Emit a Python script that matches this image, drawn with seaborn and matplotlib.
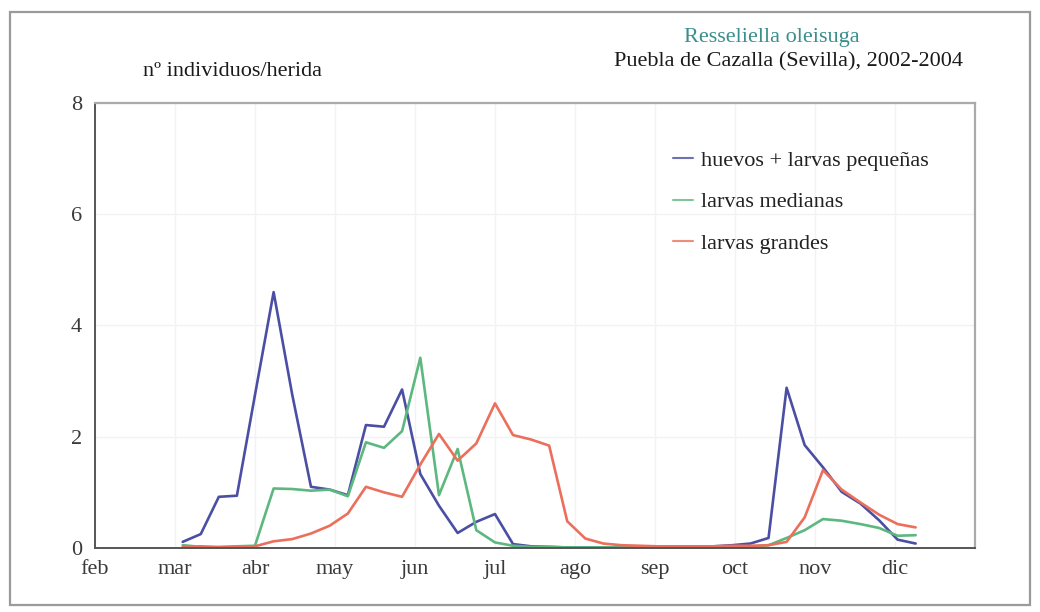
import numpy as np
import pandas as pd
import matplotlib
matplotlib.use("Agg")
import matplotlib.pyplot as plt
from matplotlib.patches import Rectangle
import seaborn as sns

# Weekly sampling dates (2003 season) and counts per wound
FECHA_INICIO = "2003-03-04"
N_MUESTREOS = 41

huevos_larvas_pequenas = [
    0.11, 0.25, 0.92, 0.94, 2.75, 4.60, 2.75, 1.10, 1.05, 0.95,
    2.21, 2.18, 2.85, 1.33, 0.76, 0.27, 0.47, 0.61, 0.07, 0.03,
    0.02, 0.01, 0.01, 0.01, 0.01, 0.01, 0.02, 0.02, 0.02, 0.03,
    0.05, 0.08, 0.18, 2.88, 1.85, 1.45, 1.01, 0.80, 0.50, 0.15,
    0.08,
]
larvas_medianas = [
    0.05, 0.02, 0.02, 0.03, 0.04, 1.07, 1.06, 1.03, 1.05, 0.93,
    1.90, 1.80, 2.10, 3.42, 0.95, 1.78, 0.32, 0.10, 0.04, 0.02,
    0.02, 0.01, 0.01, 0.01, 0.01, 0.01, 0.01, 0.01, 0.01, 0.01,
    0.01, 0.02, 0.05, 0.18, 0.32, 0.52, 0.49, 0.43, 0.36, 0.22,
    0.23,
]
larvas_grandes = [
    0.02, 0.03, 0.01, 0.02, 0.03, 0.12, 0.16, 0.26, 0.40, 0.62,
    1.10, 1.00, 0.92, 1.50, 2.05, 1.57, 1.88, 2.60, 2.03, 1.95,
    1.84, 0.48, 0.17, 0.08, 0.05, 0.04, 0.03, 0.03, 0.03, 0.03,
    0.04, 0.04, 0.05, 0.11, 0.55, 1.40, 1.05, 0.82, 0.60, 0.43,
    0.37,
]

SERIES = ["huevos + larvas pequeñas", "larvas medianas", "larvas grandes"]
COLORES = ["#4a4fa3", "#5cb87f", "#ec6f5b"]
MESES = ["feb", "mar", "abr", "may", "jun", "jul", "ago", "sep", "oct", "nov", "dic"]

# Position of each sampling date on a month axis (feb = 0, equal width per month)
fechas = pd.date_range(FECHA_INICIO, periods=N_MUESTREOS, freq="7D")
pos_mes = (fechas.month - 2) + (fechas.day - 1) / fechas.days_in_month

df = pd.concat(
    [
        pd.DataFrame({"mes": pos_mes, "valor": vals, "serie": nombre})
        for nombre, vals in zip(SERIES, [huevos_larvas_pequenas, larvas_medianas, larvas_grandes])
    ],
    ignore_index=True,
)

sns.set_style("white")
plt.rcParams["font.family"] = ["Liberation Serif", "DejaVu Serif"]

fig = plt.figure(figsize=(10.4, 6.12), dpi=100)
ax = fig.add_axes([0.0913, 0.1046, 0.8462, 0.7271])

sns.lineplot(
    data=df, x="mes", y="valor", hue="serie", hue_order=SERIES,
    palette=dict(zip(SERIES, COLORES)), linewidth=1.9, ax=ax,
)

ax.set_xlim(0, 11)
ax.set_ylim(0, 8)
ax.set_xticks(np.arange(len(MESES)))
ax.set_xticklabels(MESES)
ax.set_xticks(np.arange(0, 11, 0.25), minor=True)
ax.set_yticks([0, 2, 4, 6, 8])
ax.set_yticks([1, 3, 5, 7], minor=True)
ax.set_xlabel("")
ax.set_ylabel("")

ax.grid(True, which="major", color="#f2f2f2", linewidth=1.0)
ax.tick_params(axis="both", which="major", labelsize=16, colors="#555555",
               labelcolor="#3a3a3a", direction="inout", length=7, width=1)
ax.tick_params(axis="both", which="minor", colors="#777777",
               direction="inout", length=4, width=0.8)
ax.tick_params(axis="x", which="major", pad=5)
ax.tick_params(axis="y", which="major", pad=6)

for lado, color, lw in [("left", "#555555", 1.4), ("bottom", "#555555", 1.4),
                        ("top", "#aaaaaa", 1.6), ("right", "#aaaaaa", 1.6)]:
    ax.spines[lado].set_visible(True)
    ax.spines[lado].set_color(color)
    ax.spines[lado].set_linewidth(lw)

leg = ax.legend(
    loc="upper left", bbox_to_anchor=(0.634, 0.938), frameon=False,
    fontsize=16, handlelength=0.9, handletextpad=0.38, labelspacing=0.93,
)
for h in leg.get_lines():
    h.set_linewidth(1.5)
    h.set_alpha(0.8)
for t in leg.get_texts():
    t.set_color("#222222")

fig.text(0.742, 0.939, "Resseliella oleisuga", ha="center", va="center",
         fontsize=16, color="#3a8f8c")
fig.text(0.758, 0.899, "Puebla de Cazalla (Sevilla), 2002-2004", ha="center",
         va="center", fontsize=16, color="#1a1a1a")
fig.text(0.224, 0.883, "nº individuos/herida", ha="center", va="center",
         fontsize=16, color="#1a1a1a")

fig.patches.append(Rectangle((0.0096, 0.012), 0.981, 0.968, transform=fig.transFigure,
                             fill=False, edgecolor="#9a9a9a", linewidth=1.6))

fig.savefig("out.png", dpi=100, facecolor="white")
